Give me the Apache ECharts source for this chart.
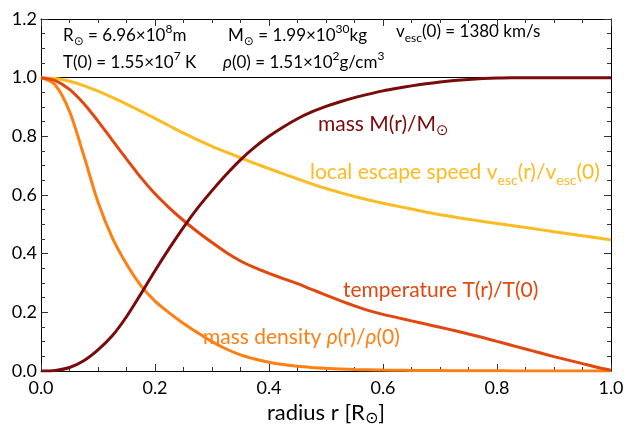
<!DOCTYPE html>
<html>
<head>
<meta charset="utf-8">
<script src="https://cdn.jsdelivr.net/npm/echarts@6/dist/echarts.min.js"></script>
<style>
html,body{margin:0;padding:0;background:#fff;}
#c{width:624px;height:431px;}
</style>
</head>
<body>
<div id="c"></div>
<script>
// Radius grid (fraction of solar radius)
const radius = [0,0.025,0.05,0.075,0.1,0.125,0.15,0.175,0.2,0.225,0.25,0.275,0.3,0.325,0.35,0.375,0.4,0.425,0.45,0.475,0.5,0.525,0.55,0.575,0.6,0.625,0.65,0.675,0.7,0.725,0.75,0.775,0.8,0.825,0.85,0.875,0.9,0.925,0.95,0.975,1.0];
// Enclosed mass M(r)/Msun
const mass = [0,0.002,0.012,0.035,0.072,0.12,0.185,0.262,0.342,0.418,0.49,0.556,0.615,0.67,0.72,0.763,0.8,0.832,0.86,0.883,0.902,0.918,0.932,0.944,0.955,0.964,0.972,0.979,0.985,0.99,0.994,0.997,0.999,1,1,1,1,1,1,1,1];
// Temperature T(r)/T(0)
const temperature = [1,0.99,0.96,0.912,0.852,0.787,0.723,0.66,0.604,0.556,0.513,0.474,0.438,0.404,0.375,0.352,0.333,0.315,0.298,0.278,0.259,0.24,0.222,0.206,0.193,0.182,0.171,0.16,0.149,0.138,0.126,0.114,0.101,0.088,0.075,0.062,0.049,0.037,0.025,0.013,0.003];
// Mass density rho(r)/rho(0)
const density = [1,0.975,0.885,0.735,0.576,0.455,0.365,0.292,0.238,0.198,0.162,0.13,0.1,0.075,0.055,0.041,0.03,0.022,0.016,0.012,0.009,0.007,0.005,0.004,0.003,0.0025,0.002,0.0016,0.0013,0.001,0.0008,0.0006,0.0005,0.0004,0.0003,0.0002,0.0001,0.0001,0,0,0];
// Local escape speed v_esc(r)/v_esc(0)
const escapeSpeed = [1,0.997,0.988,0.973,0.954,0.933,0.91,0.886,0.861,0.836,0.811,0.788,0.766,0.746,0.727,0.708,0.69,0.672,0.655,0.638,0.622,0.608,0.595,0.583,0.572,0.562,0.552,0.542,0.533,0.525,0.517,0.51,0.503,0.496,0.489,0.482,0.475,0.468,0.461,0.454,0.447];
// Axis ticks
const xTicks = [0.0,0.2,0.4,0.6,0.8,1.0];
const yTicks = [0.0,0.2,0.4,0.6,0.8,1.0,1.2];

const FONT = 'Lato';
const colors = {mass:'#7b0a0a', temp:'#e2470e', dens:'#ff7f12', esc:'#fdbb22'};
const pairs = arr => radius.map((r,i)=>[r,arr[i]]);

const axisCommon = {
  type:'value', min:0, interval:0.2,
  axisLine:{show:true, onZero:false, lineStyle:{color:'#000', width:1}},
  axisTick:{show:true, inside:true, length:7, lineStyle:{color:'#333', width:1}},
  minorTick:{show:true, splitNumber:4, length:4, lineStyle:{color:'#333', width:1}},
  splitLine:{show:false}, minorSplitLine:{show:false}
};
const labelStyle = {show:true, color:'#000', fontSize:18, fontFamily:FONT, formatter: v=>v.toFixed(1)};

const chart = echarts.init(document.getElementById('c'), null, {renderer:'canvas'});

const txtRich = (size, color) => ({
  n:{fontSize:size, fontFamily:FONT, color:color, lineHeight:size+8, verticalAlign:'middle'},
  i:{fontSize:size, fontFamily:FONT, fontStyle:'italic', color:color, lineHeight:size+8, verticalAlign:'middle'},
  p:{fontSize:Math.round(size*0.68), fontFamily:FONT, color:color, lineHeight:size+8, verticalAlign:'top'},
  s:{fontSize:Math.round(size*0.68), fontFamily:FONT, color:color, lineHeight:size+8, verticalAlign:'bottom'},
  o:{fontSize:Math.round(size*0.72), fontFamily:'DejaVu Sans', color:color, lineHeight:size+8, verticalAlign:'bottom'}
});
const mkText = (x,y,text,size,color) => ({
  type:'text', left:x, top:y, z:100,
  style:{text:text, rich:txtRich(size,color), fill:color, font: size+'px '+FONT}
});

chart.setOption({
  animation:false,
  backgroundColor:'#fff',
  grid:{left:41, right:13, top:19, bottom:60, outerBoundsMode:'none', containLabel:false},
  xAxis:[
    Object.assign({}, axisCommon, {max:1, position:'bottom',
      axisLabel:Object.assign({}, labelStyle, {margin:8}),
      name:'{a|radius r [R}{b|⊙}{a|]}', nameLocation:'middle', nameGap:26,
      nameTextStyle:{rich:{
        a:{fontSize:22, fontFamily:FONT, color:'#000', lineHeight:28, verticalAlign:'middle'},
        b:{fontSize:16, fontFamily:'DejaVu Sans', color:'#000', lineHeight:28, verticalAlign:'bottom'}
      }}}),
    Object.assign({}, axisCommon, {max:1, position:'top', axisLabel:{show:false}})
  ],
  yAxis:[
    Object.assign({}, axisCommon, {max:1.2, position:'left',
      axisLabel:Object.assign({}, labelStyle, {margin:4})}),
    Object.assign({}, axisCommon, {max:1.2, position:'right', axisLabel:{show:false}})
  ],
  series:[
    {type:'line', name:'escape', data:pairs(escapeSpeed), showSymbol:false, smooth:0.3,
     lineStyle:{color:colors.esc, width:3}, z:2,
     markLine:{silent:true, symbol:'none', label:{show:false}, lineStyle:{color:'#000', width:1, type:'solid'}, z:1,
       data:[{yAxis:1.0}]}},
    {type:'line', name:'density', data:pairs(density), showSymbol:false, smooth:0.3,
     lineStyle:{color:colors.dens, width:3}, z:3},
    {type:'line', name:'temperature', data:pairs(temperature), showSymbol:false, smooth:0.3,
     lineStyle:{color:colors.temp, width:3}, z:4},
    {type:'line', name:'mass', data:pairs(mass), showSymbol:false, smooth:0.3,
     lineStyle:{color:colors.mass, width:3}, z:5}
  ],
  graphic:[
    mkText(63,23,'{n|R}{o|⊙}{n| = 6.96×10}{p|8}{n|m}',17,'#000'),
    mkText(228,23,'{n|M}{o|⊙}{n| = 1.99×10}{p|30}{n|kg}',17,'#000'),
    mkText(396,23,'{n|v}{s|esc}{n|(0) = 1380 km/s}',17,'#000'),
    mkText(63,50,'{n|T(0) = 1.55×10}{p|7}{n| K}',17,'#000'),
    mkText(223,50,'{i|ρ}{n|(0) = 1.51×10}{p|2}{n|g/cm}{p|3}',17,'#000'),
    mkText(318,114,'{n|mass M(r)/M}{o|⊙}',21,colors.mass),
    mkText(310,162,'{n|local escape speed v}{s|esc}{n|(r)/v}{s|esc}{n|(0)}',21,colors.esc),
    mkText(343,280,'{n|temperature T(r)/T(0)}',21,colors.temp),
    mkText(203,327,'{n|mass density }{i|ρ}{n|(r)/}{i|ρ}{n|(0)}',21,colors.dens)
  ]
});
</script>
</body>
</html>
